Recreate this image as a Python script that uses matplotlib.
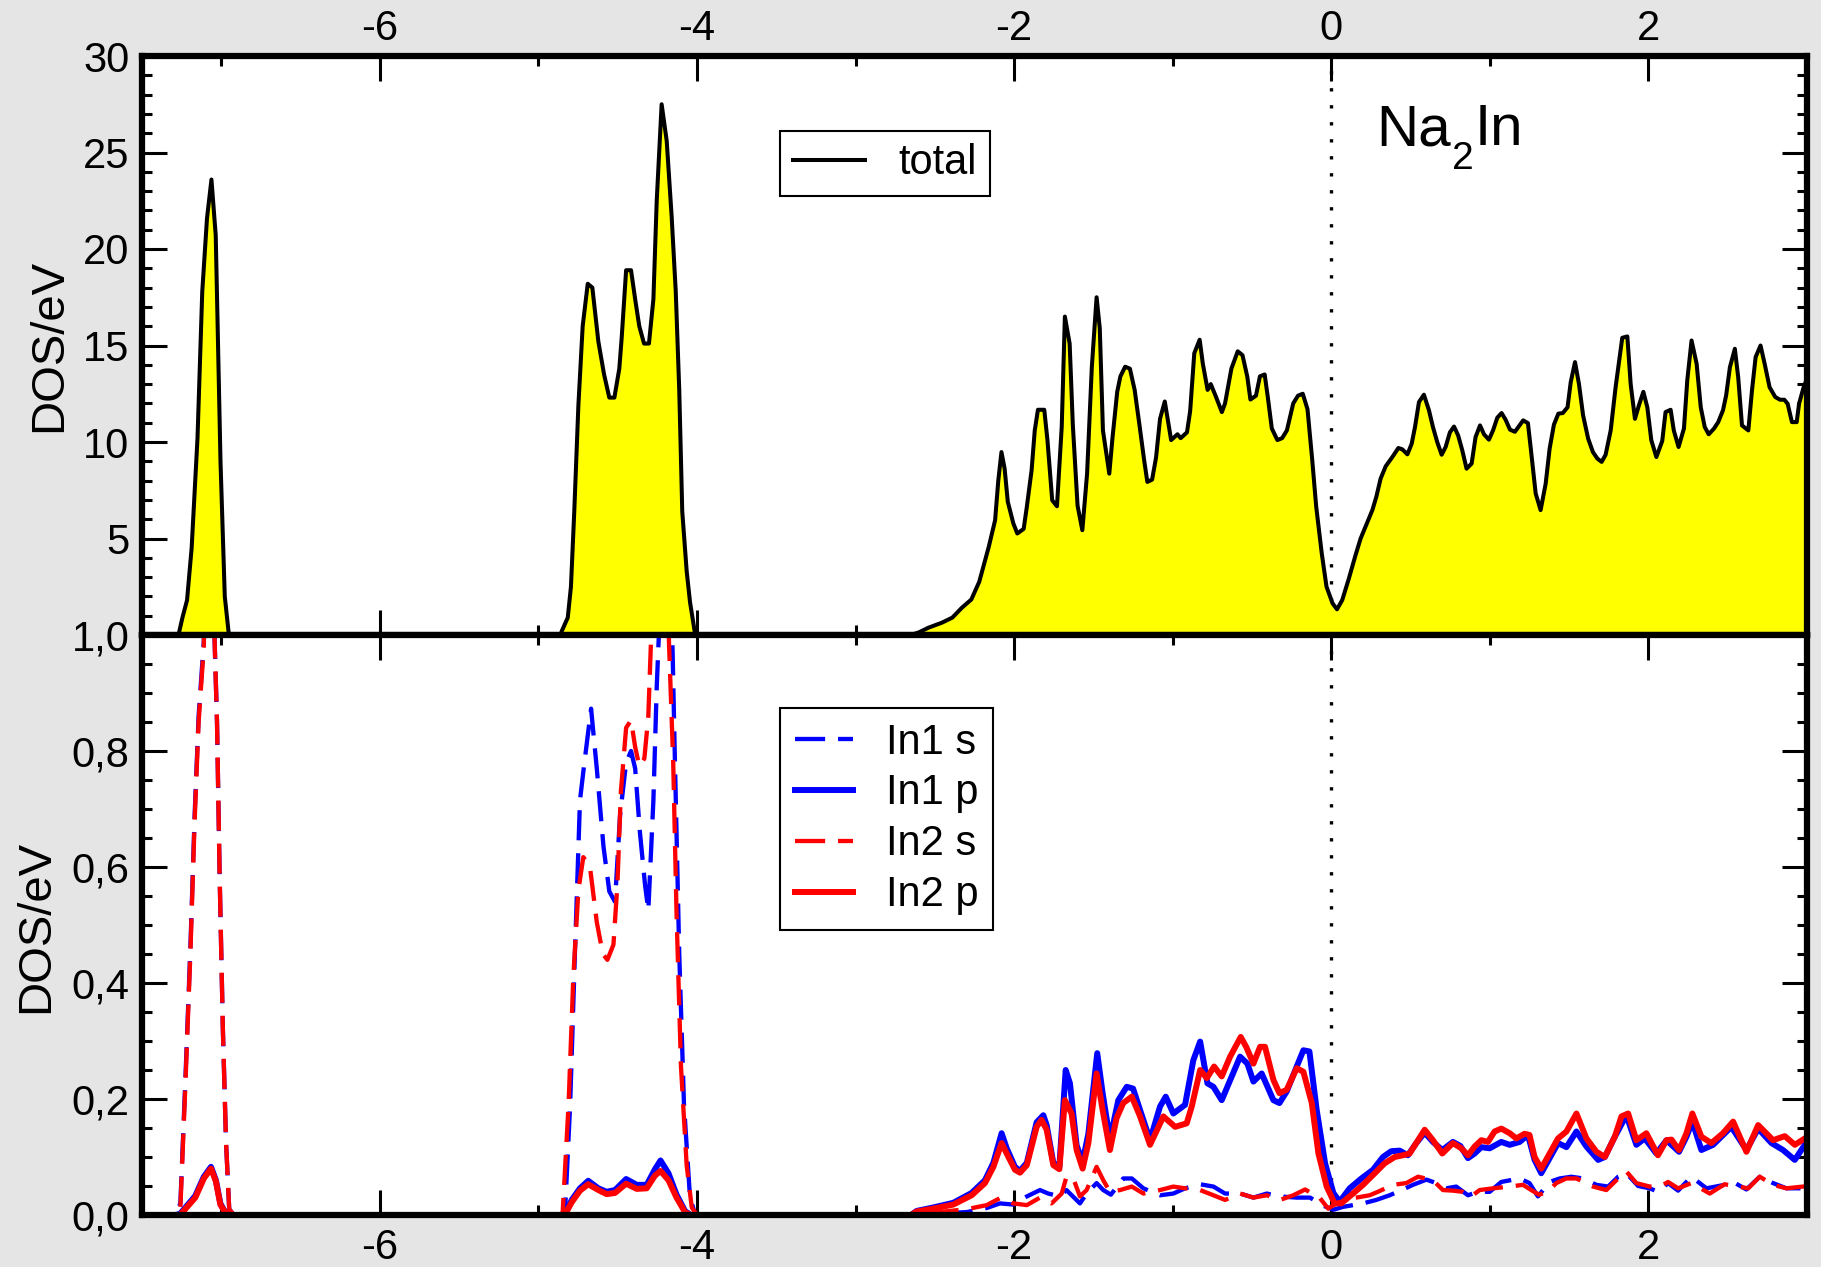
import matplotlib
matplotlib.use("Agg")
import matplotlib.pyplot as plt
from matplotlib.ticker import MultipleLocator, FuncFormatter

plt.rcParams['font.family'] = ['Liberation Sans', 'DejaVu Sans']
plt.rcParams['axes.unicode_minus'] = False

# --- donnees (energie en eV) ---
# DOS totale (panneau du haut)
tot_e = [-7.5, -7.27, -7.245, -7.216, -7.187, -7.15, -7.12, -7.09, -7.062, -7.035, -7.005, -6.978, -6.952,
         -4.86, -4.853, -4.815, -4.795, -4.774, -4.748, -4.721, -4.689, -4.66, -4.622, -4.586, -4.553,
         -4.521, -4.49, -4.475, -4.447, -4.416, -4.39, -4.364, -4.334, -4.303, -4.275, -4.254, -4.223,
         -4.191, -4.16, -4.134, -4.112, -4.093, -4.065, -4.044, -4.013, -4.0,
         -2.65, -2.60, -2.54, -2.455, -2.39, -2.33, -2.27, -2.22, -2.16, -2.12, -2.10, -2.08, -2.06,
         -2.04, -2.005, -1.98, -1.94, -1.92, -1.89, -1.87, -1.85, -1.81, -1.79, -1.76, -1.73, -1.70,
         -1.68, -1.65, -1.63, -1.60, -1.57, -1.54, -1.51, -1.48, -1.46, -1.44, -1.40, -1.38, -1.35,
         -1.33, -1.30, -1.27, -1.24, -1.21, -1.18, -1.16, -1.13, -1.105, -1.08, -1.05, -1.03, -1.01,
         -0.97, -0.95, -0.91, -0.89, -0.864, -0.83, -0.81, -0.78, -0.76, -0.73, -0.69, -0.67, -0.63,
         -0.59, -0.56, -0.53, -0.51, -0.475, -0.45, -0.42, -0.40, -0.375, -0.34, -0.31, -0.28, -0.24,
         -0.21, -0.18, -0.15, -0.12, -0.095, -0.06, -0.03, 0.008, 0.036, 0.069, 0.111, 0.153, 0.185,
         0.217, 0.259, 0.284, 0.311, 0.343, 0.385, 0.423, 0.448, 0.48, 0.507, 0.528, 0.553, 0.584,
         0.616, 0.641, 0.668, 0.696, 0.721, 0.748, 0.774, 0.80, 0.826, 0.853, 0.885, 0.91, 0.938,
         0.963, 0.994, 1.02, 1.047, 1.074, 1.099, 1.127, 1.158, 1.18, 1.21, 1.24, 1.257, 1.289, 1.32,
         1.352, 1.377, 1.404, 1.432, 1.46, 1.49, 1.51, 1.537, 1.562, 1.588, 1.62, 1.65, 1.678, 1.705,
         1.73, 1.762, 1.793, 1.835, 1.867, 1.888, 1.915, 1.94, 1.968, 1.993, 2.018, 2.05, 2.087, 2.108,
         2.14, 2.16, 2.19, 2.224, 2.245, 2.272, 2.304, 2.33, 2.355, 2.38, 2.414, 2.44, 2.47, 2.49,
         2.514, 2.545, 2.566, 2.59, 2.63, 2.653, 2.676, 2.707, 2.733, 2.764, 2.80, 2.83, 2.857, 2.878,
         2.905, 2.935, 2.95, 2.976, 3.0]
tot_dos = [0, 0, 0.9, 1.8, 4.5, 10.2, 17.8, 21.6, 23.6, 20.7, 9.0, 2.0, 0,
           0, 0.2, 0.9, 2.5, 6.4, 11.9, 16.0, 18.2, 18.0, 15.2, 13.5, 12.3,
           12.3, 13.8, 15.4, 18.9, 18.9, 17.4, 16.0, 15.1, 15.1, 17.4, 22.5, 27.5,
           25.6, 21.7, 17.8, 12.7, 6.4, 3.3, 1.7, 0.1, 0,
           0, 0.14, 0.38, 0.64, 0.9, 1.41, 1.84, 2.76, 4.57, 5.95, 8.0, 9.48, 8.62,
           6.9, 5.78, 5.26, 5.5, 6.64, 8.53, 10.6, 11.67, 11.67, 10.1, 6.98, 6.67, 10.78,
           16.5, 15.1, 10.9, 6.7, 5.43, 8.36, 13.9, 17.5, 15.9, 10.6, 8.36, 10.2, 12.6,
           13.4, 13.9, 13.8, 12.7, 10.9, 9.05, 7.93, 8.05, 9.2, 11.2, 12.1, 11.1, 10.1,
           10.4, 10.2, 10.5, 11.6, 14.6, 15.3, 14.05, 12.7, 13.0, 12.4, 11.55, 12.0, 13.8,
           14.7, 14.5, 13.4, 12.2, 12.4, 13.4, 13.5, 12.3, 10.7, 10.1, 10.2, 10.6, 12.0,
           12.4, 12.5, 11.7, 9.05, 6.64, 4.22, 2.5, 1.64, 1.33, 1.81, 2.93, 4.14, 5.0,
           5.64, 6.47, 7.16, 8.1, 8.74, 9.22, 9.69, 9.62, 9.36, 9.91, 10.78, 12.07, 12.45,
           11.64, 10.78, 10.0, 9.34, 9.74, 10.5, 10.8, 10.34, 9.57, 8.62, 8.88, 10.26, 10.86,
           10.4, 10.12, 10.6, 11.26, 11.5, 11.16, 10.64, 10.53, 10.78, 11.12, 10.98, 9.74, 7.33, 6.47,
           7.84, 9.66, 10.9, 11.47, 11.5, 11.8, 13.1, 14.14, 13.0, 11.38, 10.17, 9.48, 9.14, 8.97,
           9.34, 10.6, 12.84, 15.4, 15.47, 13.0, 11.2, 11.9, 12.6, 11.8, 10.1, 9.22, 10.05, 11.55,
           11.67, 10.6, 9.74, 10.7, 13.2, 15.26, 14.05, 11.8, 10.78, 10.4, 10.7, 11.03, 11.64, 12.41,
           13.88, 14.83, 13.36, 10.86, 10.6, 12.67, 14.4, 15.0, 14.05, 12.84, 12.33, 12.19, 12.19, 11.98,
           11.03, 11.03, 11.98, 12.76, 13.3]

# In1 s
in1s_e = [-7.5, -7.29, -7.258, -7.227, -7.195, -7.168, -7.143, -7.11, -7.085, -7.062, -7.042, -7.027,
          -7.01, -6.99, -6.97, -6.95, -6.92,
          -4.86, -4.832, -4.80, -4.77, -4.738, -4.71, -4.668, -4.632, -4.59, -4.553, -4.517, -4.485,
          -4.447, -4.416, -4.39, -4.36, -4.328, -4.307, -4.275, -4.254, -4.233, -4.20, -4.16, -4.139,
          -4.112, -4.082, -4.044, -4.01,
          -2.65, -2.30, -2.173, -2.09, -2.005, -1.92, -1.837, -1.785, -1.71, -1.67, -1.585, -1.543,
          -1.48, -1.438, -1.39, -1.312, -1.258, -1.185, -1.08, -0.996, -0.922, -0.827, -0.743, -0.67,
          -0.575, -0.491, -0.407, -0.323, -0.218, -0.134, -0.05, 0.013, 0.074, 0.20, 0.284, 0.368,
          0.452, 0.515, 0.60, 0.662, 0.725, 0.788, 0.862, 0.925, 0.999, 1.072, 1.188, 1.25, 1.303,
          1.377, 1.44, 1.514, 1.588, 1.672, 1.746, 1.809, 1.861, 1.935, 2.008, 2.061, 2.124, 2.187,
          2.271, 2.366, 2.48, 2.534, 2.618, 2.702, 2.786, 2.87, 2.975, 3.0]
in1s_dos = [0, 0, 0.02, 0.23, 0.46, 0.69, 0.86, 0.99, 1.6, 1.7, 0.99, 0.85,
            0.58, 0.32, 0.125, 0.01, 0,
            0, 0.007, 0.19, 0.45, 0.715, 0.78, 0.873, 0.77, 0.636, 0.558, 0.54, 0.69,
            0.78, 0.80, 0.77, 0.66, 0.57, 0.525, 0.715, 0.91, 1.05, 1.5, 1.05, 0.78,
            0.45, 0.19, 0.03, 0,
            0, 0.005, 0.012, 0.02, 0.018, 0.032, 0.043, 0.037, 0.032, 0.043, 0.02, 0.037,
            0.055, 0.043, 0.035, 0.063, 0.063, 0.046, 0.034, 0.037, 0.046, 0.053, 0.049, 0.037,
            0.037, 0.03, 0.037, 0.032, 0.03, 0.03, 0.016, 0.009, 0.014, 0.02, 0.026, 0.034,
            0.044, 0.052, 0.061, 0.055, 0.046, 0.049, 0.034, 0.04, 0.04, 0.057, 0.063, 0.055, 0.032,
            0.057, 0.063, 0.066, 0.063, 0.052, 0.049, 0.066, 0.072, 0.05, 0.046, 0.04, 0.055, 0.042,
            0.066, 0.046, 0.052, 0.057, 0.044, 0.066, 0.055, 0.046, 0.046, 0.048]

# In1 p
in1p_e = [-7.5, -7.29, -7.26, -7.164, -7.11, -7.065, -7.034, -7.006, -6.97, -6.95,
          -4.86, -4.83, -4.79, -4.738, -4.686, -4.622, -4.57, -4.517, -4.447, -4.38, -4.317, -4.265,
          -4.23, -4.18, -4.129, -4.076, -4.04,
          -2.65, -2.615, -2.51, -2.384, -2.268, -2.184, -2.131, -2.079, -2.047, -1.995, -1.963, -1.92,
          -1.858, -1.816, -1.795, -1.753, -1.715, -1.675, -1.648, -1.606, -1.568, -1.532, -1.476,
          -1.442, -1.396, -1.343, -1.29, -1.25, -1.206, -1.143, -1.08, -1.044, -0.996, -0.922, -0.87,
          -0.827, -0.781, -0.743, -0.691, -0.628, -0.575, -0.529, -0.491, -0.439, -0.365, -0.327,
          -0.281, -0.218, -0.176, -0.138, -0.092, -0.039, 0.013, 0.053, 0.116, 0.19, 0.263, 0.326,
          0.378, 0.431, 0.483, 0.536, 0.589, 0.641, 0.70, 0.767, 0.814, 0.862, 0.904, 0.946, 0.999,
          1.072, 1.125, 1.188, 1.24, 1.282, 1.324, 1.377, 1.43, 1.483, 1.546, 1.609, 1.683, 1.725,
          1.788, 1.861, 1.924, 1.977, 2.05, 2.114, 2.193, 2.24, 2.277, 2.334, 2.408, 2.523, 2.618,
          2.692, 2.776, 2.849, 2.923, 2.986, 3.0]
in1p_dos = [0, 0, 0.002, 0.033, 0.066, 0.083, 0.06, 0.02, 0.002, 0,
            0, 0.003, 0.026, 0.046, 0.059, 0.046, 0.04, 0.043, 0.062, 0.052, 0.052, 0.079,
            0.094, 0.072, 0.035, 0.007, 0,
            0, 0.007, 0.013, 0.021, 0.038, 0.06, 0.09, 0.141, 0.115, 0.083, 0.076, 0.09,
            0.16, 0.172, 0.155, 0.09, 0.083, 0.25, 0.227, 0.12, 0.092, 0.14, 0.279,
            0.21, 0.13, 0.198, 0.221, 0.218, 0.181, 0.129, 0.187, 0.204, 0.175, 0.19, 0.267,
            0.299, 0.227, 0.221, 0.198, 0.239, 0.273, 0.261, 0.23, 0.244, 0.198, 0.193,
            0.213, 0.256, 0.284, 0.282, 0.181, 0.089, 0.038, 0.023, 0.046, 0.063, 0.078, 0.1,
            0.11, 0.111, 0.103, 0.124, 0.142, 0.126, 0.112, 0.126, 0.119, 0.098, 0.106, 0.117, 0.115,
            0.126, 0.121, 0.126, 0.138, 0.095, 0.072, 0.098, 0.124, 0.117, 0.144, 0.118, 0.095, 0.1,
            0.135, 0.172, 0.121, 0.132, 0.106, 0.129, 0.109, 0.135, 0.161, 0.112, 0.121, 0.152, 0.112,
            0.149, 0.124, 0.112, 0.095, 0.121, 0.125]

# In2 s
in2s_e = [-7.5, -7.29, -7.258, -7.227, -7.195, -7.168, -7.143, -7.11, -7.085, -7.062, -7.042, -7.027,
          -7.01, -6.99, -6.97, -6.95, -6.92,
          -4.86, -4.848, -4.81, -4.78, -4.748, -4.717, -4.675, -4.632, -4.594, -4.565, -4.527, -4.502,
          -4.48, -4.447, -4.416, -4.39, -4.364, -4.332, -4.307, -4.29, -4.254, -4.223, -4.20, -4.177,
          -4.15, -4.129, -4.101, -4.065, -4.033, -4.0,
          -2.65, -2.30, -2.173, -2.09, -2.005, -1.92, -1.837, -1.764, -1.70, -1.67, -1.627, -1.585,
          -1.543, -1.48, -1.438, -1.396, -1.332, -1.258, -1.185, -1.08, -0.996, -0.922, -0.827, -0.743,
          -0.67, -0.575, -0.491, -0.407, -0.323, -0.24, -0.165, -0.071, -0.02, 0.032, 0.137, 0.242,
          0.294, 0.389, 0.473, 0.547, 0.641, 0.704, 0.767, 0.83, 0.883, 0.935, 1.02, 1.125, 1.209,
          1.261, 1.31, 1.366, 1.419, 1.482, 1.546, 1.651, 1.735, 1.809, 1.861, 1.924, 2.008, 2.072,
          2.124, 2.187, 2.271, 2.387, 2.48, 2.63, 2.702, 2.786, 2.87, 2.975, 3.0]
in2s_dos = [0, 0, 0.013, 0.22, 0.45, 0.68, 0.85, 0.98, 1.6, 1.7, 0.99, 0.85,
            0.58, 0.32, 0.125, 0.01, 0,
            0, 0, 0.19, 0.41, 0.56, 0.617, 0.60, 0.505, 0.45, 0.44, 0.466, 0.57,
            0.73, 0.84, 0.853, 0.807, 0.774, 0.787, 0.86, 0.99, 1.4, 1.6, 1.35, 0.99,
            0.78, 0.52, 0.256, 0.085, 0.013, 0,
            0, 0.01, 0.017, 0.029, 0.02, 0.017, 0.03, 0.02, 0.037, 0.066, 0.063, 0.032,
            0.043, 0.083, 0.06, 0.04, 0.043, 0.049, 0.037, 0.043, 0.049, 0.046, 0.043, 0.034,
            0.026, 0.037, 0.03, 0.034, 0.026, 0.034, 0.044, 0.029, 0.011, 0.02, 0.029, 0.034,
            0.04, 0.052, 0.055, 0.066, 0.06, 0.043, 0.042, 0.04, 0.032, 0.043, 0.046, 0.049, 0.052,
            0.043, 0.035, 0.04, 0.055, 0.063, 0.063, 0.049, 0.043, 0.063, 0.075, 0.055, 0.049, 0.049,
            0.057, 0.046, 0.055, 0.037, 0.053, 0.046, 0.066, 0.052, 0.046, 0.049, 0.05]

# In2 p
in2p_e = [-7.5, -7.29, -7.26, -7.164, -7.11, -7.065, -7.034, -7.006, -6.97, -6.95,
          -4.86, -4.83, -4.79, -4.738, -4.686, -4.622, -4.57, -4.517, -4.447, -4.38, -4.317, -4.265,
          -4.23, -4.18, -4.129, -4.076, -4.04,
          -2.65, -2.615, -2.51, -2.384, -2.268, -2.184, -2.131, -2.079, -2.047, -1.995, -1.963, -1.92,
          -1.858, -1.827, -1.795, -1.753, -1.715, -1.68, -1.638, -1.606, -1.568, -1.532, -1.48,
          -1.442, -1.396, -1.354, -1.312, -1.258, -1.206, -1.143, -1.059, -0.985, -0.912, -0.88,
          -0.827, -0.785, -0.739, -0.691, -0.638, -0.571, -0.537, -0.491, -0.449, -0.418, -0.365,
          -0.327, -0.281, -0.218, -0.176, -0.123, -0.081, -0.029, 0.021, 0.063, 0.137, 0.20, 0.263,
          0.336, 0.40, 0.452, 0.494, 0.536, 0.589, 0.641, 0.70, 0.767, 0.82, 0.862, 0.904, 0.946,
          0.988, 1.03, 1.072, 1.125, 1.167, 1.219, 1.25, 1.282, 1.324, 1.377, 1.43, 1.483, 1.546,
          1.609, 1.672, 1.725, 1.788, 1.83, 1.872, 1.924, 1.987, 2.06, 2.114, 2.145, 2.193, 2.24,
          2.277, 2.334, 2.397, 2.47, 2.534, 2.618, 2.692, 2.786, 2.86, 2.923, 2.986, 3.0]
in2p_dos = [0, 0, 0.0, 0.03, 0.063, 0.08, 0.058, 0.018, 0.002, 0,
            0, 0.002, 0.022, 0.042, 0.053, 0.043, 0.036, 0.038, 0.054, 0.045, 0.046, 0.068,
            0.076, 0.06, 0.03, 0.005, 0,
            0, 0.006, 0.011, 0.018, 0.034, 0.055, 0.083, 0.124, 0.106, 0.078, 0.073, 0.086,
            0.152, 0.164, 0.147, 0.086, 0.079, 0.198, 0.175, 0.112, 0.080, 0.124, 0.244,
            0.181, 0.112, 0.167, 0.193, 0.204, 0.17, 0.121, 0.17, 0.152, 0.158, 0.187,
            0.25, 0.236, 0.256, 0.239, 0.273, 0.307, 0.29, 0.261, 0.29, 0.29, 0.233,
            0.21, 0.216, 0.253, 0.247, 0.193, 0.106, 0.049, 0.02, 0.02, 0.037, 0.052, 0.069,
            0.089, 0.1, 0.103, 0.106, 0.124, 0.147, 0.129, 0.106, 0.124, 0.115, 0.103, 0.118, 0.129,
            0.126, 0.144, 0.149, 0.141, 0.132, 0.14, 0.138, 0.1, 0.08, 0.106, 0.132, 0.144, 0.175,
            0.132, 0.109, 0.1, 0.135, 0.17, 0.175, 0.129, 0.141, 0.103, 0.129, 0.13, 0.112, 0.141,
            0.175, 0.135, 0.124, 0.141, 0.161, 0.109, 0.155, 0.129, 0.136, 0.121, 0.132, 0.13]

x_ticks = [-6, -4, -2, 0, 2]

# --- figure ---
fig = plt.figure(figsize=(18.21, 12.67), dpi=100, facecolor='#e5e5e5')
W, H = 1821, 1267
left, right = 142 / W, 1807 / W
ax1 = fig.add_axes([left, 1 - 635 / H, right - left, (635 - 56) / H])
ax2 = fig.add_axes([left, 1 - 1215 / H, right - left, (1215 - 635) / H])

# panneau du haut : DOS totale
ax1.axvline(0, color='black', lw=2.4, ls=(0, (1, 4.1)), zorder=1)
ax1.fill_between(tot_e, 0, tot_dos, color='#ffff00', lw=0, zorder=2)
ax1.plot(tot_e, tot_dos, color='black', lw=2.9, zorder=3, label='total')

# panneau du bas : DOS partielles In
s_dash = (0, (7, 3))
ax2.axvline(0, color='black', lw=2.4, ls=(0, (1, 4.1)), zorder=1)
ax2.plot(in1s_e, in1s_dos, color='#0000ff', lw=3.1, ls=s_dash, label='In1 s')
ax2.plot(in1p_e, in1p_dos, color='#0000ff', lw=4.3, label='In1 p')
ax2.plot(in2s_e, in2s_dos, color='#ff0000', lw=3.1, ls=s_dash, label='In2 s')
ax2.plot(in2p_e, in2p_dos, color='#ff0000', lw=4.3, label='In2 p')

for ax in (ax1, ax2):
    ax.set_xlim(-7.5, 3)
    ax.xaxis.set_major_locator(plt.FixedLocator(x_ticks))
    ax.xaxis.set_minor_locator(MultipleLocator(1))
    ax.xaxis.set_major_formatter(FuncFormatter(lambda v, p: f'{v:g}'))
    for s in ax.spines.values():
        s.set_linewidth(4.5)
    ax.tick_params(which='both', direction='in', top=True, bottom=True, left=True, right=True,
                   width=2.2, labelsize=30)
    ax.tick_params(which='major', length=18)
    ax.tick_params(which='minor', length=7.5)
    ax.tick_params(axis='y', pad=9)

ax1.set_ylim(0, 30)
ax1.yaxis.set_major_locator(MultipleLocator(5))
ax1.yaxis.set_minor_locator(MultipleLocator(1))
ax1.yaxis.set_major_formatter(FuncFormatter(lambda v, p: '' if v == 0 else f'{v:g}'))
ax1.tick_params(axis='x', labeltop=True, labelbottom=False, pad=5)

ax2.set_ylim(0, 1)
ax2.yaxis.set_major_locator(MultipleLocator(0.2))
ax2.yaxis.set_minor_locator(MultipleLocator(0.05))
ax2.yaxis.set_major_formatter(FuncFormatter(lambda v, p: f'{v:.1f}'.replace('.', ',')))
ax2.tick_params(axis='x', labeltop=False, labelbottom=True, pad=9.5)

fig.text(49 / W, 1 - 345 / H, 'DOS/eV', rotation=90, ha='center', va='center', fontsize=34)
fig.text(36 / W, 1 - 926 / H, 'DOS/eV', rotation=90, ha='center', va='center', fontsize=34)

# Na2In : indice pose a la main (plus bas que le mathtext)
renderer = fig.canvas.get_renderer()
base_y = 1 - 145 / H
t_na = fig.text(1376 / W, base_y, 'Na', ha='left', va='baseline', fontsize=42)
x_end = t_na.get_window_extent(renderer).x1 / (W)
t_2 = fig.text(x_end + 1 / W, base_y - 24 / H, '2', ha='left', va='baseline', fontsize=28)
x_end = t_2.get_window_extent(renderer).x1 / (W)
fig.text(x_end + 1 / W, base_y, 'In', ha='left', va='baseline', fontsize=42)

leg1 = ax1.legend(loc='upper left', bbox_to_anchor=(780 / W, 1 - 131 / H), bbox_transform=fig.transFigure,
                  fontsize=30, frameon=True, fancybox=False, edgecolor='black', framealpha=1,
                  borderaxespad=0, borderpad=0.3, handlelength=1.75, handletextpad=0.8)
leg1.get_frame().set_linewidth(1.5)
leg2 = ax2.legend(loc='upper left', bbox_to_anchor=(780 / W, 1 - 708 / H), bbox_transform=fig.transFigure,
                  fontsize=30, frameon=True, fancybox=False, edgecolor='black', framealpha=1,
                  borderaxespad=0, borderpad=0.35, labelspacing=0.26, handlelength=1.4, handletextpad=0.8)
leg2.get_frame().set_linewidth(1.5)

fig.savefig('out.png', dpi=100, facecolor=fig.get_facecolor())
